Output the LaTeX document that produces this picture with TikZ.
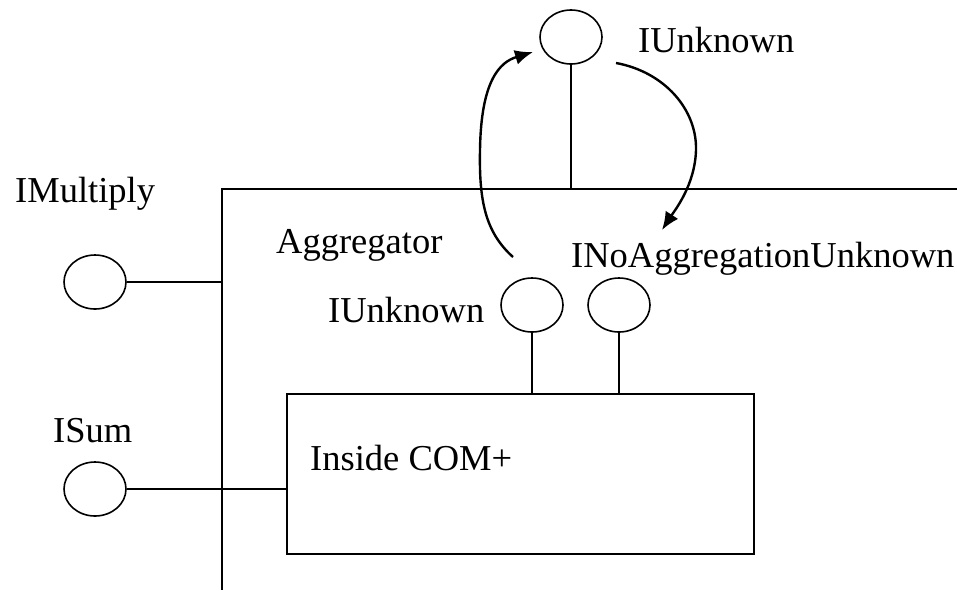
\documentclass[tikz,border=0pt]{standalone}
\usepackage{fontspec}
\setmainfont{Liberation Serif}
\usetikzlibrary{shapes.geometric,arrows.meta}
\begin{document}
\begin{tikzpicture}[x=1pt,y=-1pt,
  iface/.style={draw,ellipse,line width=1.6pt,minimum width=62pt,minimum height=54pt,inner sep=0pt},
  lbl/.style={anchor=base west,inner sep=0pt,font=\fontsize{36.5}{40}\selectfont},
  wire/.style={line width=1.8pt},
  flow/.style={line width=2.4pt,-{Latex[length=18pt,width=15pt]}}]
\useasboundingbox (0,0) rectangle (957,590);
% outer aggregator boundary
\coordinate (tl) at (222,189);
\coordinate (tr) at (957,189);
\coordinate (bl) at (222,590);
\draw[wire] (tr) -- (tl) -- (bl);
% inner box
\node[draw,line width=1.8pt,minimum width=467pt,minimum height=160pt,inner sep=0pt] (inner) at (520.5,474) {};
% interfaces
\node[iface] (top) at (571,37) {};
\node[iface] (mul) at (95,282) {};
\node[iface] (sum) at (95,489) {};
\node[iface] (iu) at (532,305) {};
\node[iface] (ino) at (619,305) {};
% stems
\draw[wire] (top.south) -- (top.south |- tl);
\draw[wire] (mul.east) -- (mul.east -| tl);
\draw[wire] (sum.east) -- (sum.east -| inner.west);
\draw[wire] (iu.south) -- (iu.south |- inner.north);
\draw[wire] (ino.south) -- (ino.south |- inner.north);
% labels
\node[lbl] (l1) at (638,52) {IUnknown};
\node[lbl] (l2) at (15,202) {IMultiply};
\node[lbl] (l3) at (276,253) {Aggregator};
\node[lbl] (l4) at (571,267) {INoAggregationUnknown};
\node[lbl] (l5) at (328,322) {IUnknown};
\node[lbl] (l6) at (53,442) {ISum};
\node[lbl] (l7) at (310,470) {Inside COM+};
% flow arrows
\coordinate (a1s) at (513,257);
\coordinate (a1e) at (533,52);
\draw[flow] (a1s) .. controls (485,232) and (479,200) .. (480,150) .. controls (481,80) and (500,62) .. (a1e);
\coordinate (a2s) at (616,63);
\coordinate (a2e) at (662,230);
\draw[flow] (a2s) .. controls (665,72) and (697,110) .. (696,150) .. controls (695,185) and (675,210) .. (a2e);
\end{tikzpicture}
\end{document}
